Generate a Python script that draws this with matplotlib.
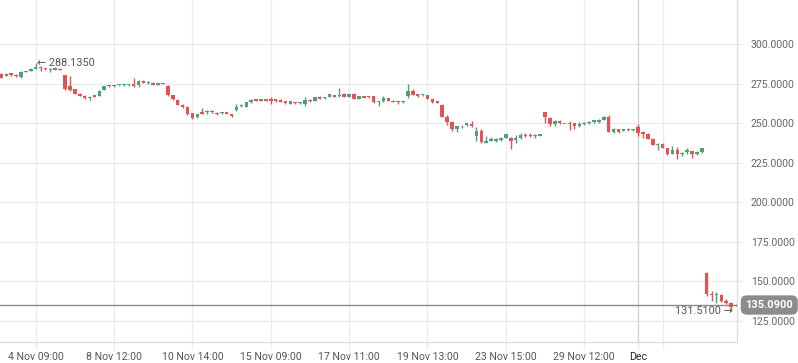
import matplotlib
matplotlib.use("Agg")
import matplotlib.pyplot as plt
import numpy as np

# ── data ──────────────────────────────────────────────────────────────────────
opens = [
    281.0, 280.0, 281.5, 280.5, 279.0, 282.6, 283.0, 284.5, 285.5, 284.9,
    283.5, 283.6, 284.3, 280.3, 273.3, 271.4, 268.7, 267.4, 266.0, 267.6,
    267.4, 271.0, 273.9, 273.4, 273.9, 274.0, 274.0, 275.0, 274.0, 276.7,
    275.2, 275.6, 274.0, 275.0, 273.5, 267.8, 264.9, 261.7, 260.4, 256.5,
    253.7, 257.0, 256.8, 257.5, 256.6, 256.1, 257.0, 255.6, 258.3, 260.6,
    260.2, 263.2, 265.0, 264.0, 265.0, 265.3, 265.3, 264.9, 264.0, 262.3,
    263.4, 262.6, 262.3, 264.7, 264.0, 266.6, 265.9, 266.6, 267.8, 267.2,
    268.2, 266.6, 268.7, 265.3, 267.2, 267.0, 267.2, 263.6, 263.8, 265.9,
    264.2, 264.0, 263.2, 267.3, 270.0, 268.2, 267.6, 267.8, 265.3, 264.0,
    261.6, 254.0, 250.8, 246.2, 247.9, 248.6, 249.6, 241.6, 245.2, 237.4,
    238.9, 238.9, 239.5, 240.5, 240.8, 239.5, 240.3, 242.8, 242.8, 241.7,
    241.8, 257.1, 253.4, 249.6, 251.5, 249.6, 250.2, 249.8, 248.5, 249.4,
    249.8, 250.8, 251.0, 252.1, 254.0, 244.5, 246.4, 245.1, 246.6, 245.6,
    247.7, 244.1, 243.2, 240.1, 236.5, 237.0, 234.2, 230.4, 233.1, 230.2,
    231.6, 232.3, 230.4, 231.9, 155.6, 142.3, 141.5, 141.7, 137.6, 136.5,
    134.5,
]
highs = [
    281.5, 281.6, 281.9, 280.8, 282.8, 283.2, 284.8, 288.135, 285.8, 285.1,
    284.7, 285.2, 284.6, 280.5, 279.8, 271.6, 268.9, 268.0, 267.2, 268.0,
    271.0, 273.5, 274.1, 274.0, 274.4, 274.9, 274.6, 278.8, 277.1, 277.0,
    276.4, 275.8, 275.6, 275.2, 273.9, 268.0, 265.1, 261.9, 260.6, 256.7,
    255.8, 259.8, 258.2, 258.0, 256.8, 257.3, 257.2, 255.8, 262.3, 262.4,
    263.4, 265.1, 265.2, 265.2, 265.2, 266.6, 265.5, 265.1, 264.2, 264.2,
    263.6, 263.6, 266.6, 265.3, 266.8, 267.0, 266.6, 268.4, 268.0, 272.3,
    269.2, 268.7, 269.2, 267.4, 267.4, 267.4, 267.4, 264.2, 267.0, 266.1,
    264.4, 264.2, 264.2, 275.0, 271.4, 268.6, 268.5, 268.0, 265.5, 264.1,
    261.8, 255.3, 251.4, 248.5, 249.0, 250.2, 251.5, 247.3, 246.2, 242.0,
    241.3, 240.5, 241.0, 243.1, 241.0, 242.2, 243.5, 243.5, 243.5, 243.0,
    243.1, 257.3, 253.6, 252.1, 252.1, 249.7, 251.4, 250.4, 250.6, 251.0,
    251.2, 252.0, 252.8, 254.5, 255.0, 247.2, 246.6, 246.6, 247.2, 246.2,
    249.4, 244.8, 243.6, 240.5, 237.3, 237.2, 234.4, 235.4, 235.0, 232.0,
    234.5, 232.5, 232.3, 234.6, 155.8, 144.2, 143.0, 141.9, 139.0, 137.3,
    135.8,
]
lows = [
    278.3, 279.8, 279.8, 279.3, 278.8, 282.4, 282.8, 284.3, 282.8, 283.8,
    282.6, 283.3, 283.4, 271.0, 270.0, 268.5, 267.2, 265.5, 264.9, 266.4,
    267.0, 270.8, 273.1, 273.0, 273.6, 273.6, 273.7, 273.0, 273.0, 275.2,
    275.0, 273.9, 273.8, 274.5, 267.4, 264.9, 261.5, 259.6, 255.4, 252.9,
    253.5, 255.8, 255.9, 256.3, 255.4, 255.6, 255.6, 253.7, 257.5, 260.0,
    260.0, 263.0, 264.0, 263.8, 263.8, 261.9, 263.2, 263.2, 262.4, 262.1,
    262.4, 261.9, 260.6, 263.4, 263.8, 265.3, 265.2, 266.4, 266.6, 266.6,
    266.2, 266.4, 265.0, 265.1, 265.9, 265.8, 263.0, 261.0, 263.2, 264.0,
    263.4, 262.4, 262.9, 266.0, 267.6, 266.4, 267.4, 265.1, 263.0, 262.6,
    253.8, 248.7, 245.2, 244.7, 246.8, 248.4, 247.4, 238.4, 237.6, 237.2,
    238.4, 238.2, 238.4, 240.3, 233.4, 237.2, 240.1, 241.0, 241.0, 240.9,
    241.6, 250.0, 247.9, 248.4, 249.2, 249.5, 245.6, 246.0, 247.4, 248.6,
    249.6, 250.2, 250.2, 251.7, 244.2, 243.6, 243.9, 244.8, 244.9, 244.9,
    241.8, 240.5, 240.0, 235.9, 233.1, 234.0, 229.8, 230.2, 227.2, 229.0,
    230.5, 228.0, 229.6, 231.0, 140.6, 137.4, 136.3, 137.0, 135.8, 131.51,
    134.2,
]
closes = [
    278.8, 281.3, 280.5, 279.6, 282.6, 283.0, 284.5, 285.5, 284.9, 284.5,
    284.5, 284.6, 283.6, 271.8, 270.8, 268.7, 267.4, 266.1, 266.5, 266.6,
    270.4, 273.3, 273.3, 273.6, 274.0, 274.3, 274.2, 273.3, 276.7, 275.4,
    276.0, 274.0, 275.4, 274.6, 267.6, 265.1, 261.7, 260.2, 256.0, 253.5,
    255.6, 256.0, 257.7, 256.9, 255.6, 257.0, 255.8, 254.3, 260.4, 261.0,
    263.2, 264.9, 264.2, 265.0, 264.0, 264.0, 264.0, 263.4, 262.6, 264.0,
    262.6, 263.2, 264.9, 264.0, 266.6, 265.5, 266.4, 268.2, 266.8, 267.8,
    266.6, 268.5, 265.3, 267.2, 266.1, 266.2, 263.2, 264.0, 265.7, 264.2,
    263.6, 263.4, 264.0, 270.3, 267.9, 267.4, 268.3, 265.3, 263.2, 263.0,
    254.0, 250.6, 246.0, 248.3, 248.5, 250.0, 247.9, 245.2, 237.8, 238.9,
    239.7, 239.7, 240.8, 242.9, 238.9, 240.8, 242.4, 241.8, 241.8, 242.4,
    242.9, 253.6, 249.6, 251.5, 250.0, 249.6, 249.2, 248.3, 249.6, 250.0,
    251.0, 251.7, 251.9, 253.8, 244.5, 246.4, 244.5, 246.2, 245.4, 245.8,
    243.9, 243.2, 240.1, 236.3, 237.1, 234.2, 230.6, 233.1, 230.4, 231.2,
    232.9, 230.4, 231.9, 234.0, 142.1, 141.5, 142.1, 137.4, 136.3, 133.8,
    135.09,
]

tick_idx = [7, 23, 39, 55, 71, 87, 103, 119, 130, 135]
tick_labels = ["4 Nov 09:00", "8 Nov 12:00", "10 Nov 14:00", "15 Nov 09:00",
               "17 Nov 11:00", "19 Nov 13:00", "23 Nov 15:00", "29 Nov 12:00",
               "Dec", ""]
month_idx = 130
y_ticks = [125, 150, 175, 200, 225, 250, 275, 300]

high_idx, high_val = 7, 288.135
low_idx, low_val = 149, 131.51
last_price = 135.09

# ── plot ──────────────────────────────────────────────────────────────────────
plt.rcParams["font.family"] = ["Roboto", "DejaVu Sans"]

RED = "#e05454"
GREEN = "#4f9f7b"
GRAY = "#8c8c8c"
GRID = "#ececec"

fig = plt.figure(figsize=(7.98, 3.63), dpi=100)
ax = fig.add_axes([0.0, 0.058, 0.9236, 0.942])

o = np.array(opens)
h = np.array(highs)
l = np.array(lows)
c = np.array(closes)
x = np.arange(len(o))

colors = np.where(c > o, GREEN, np.where(c < o, RED, GRAY))
ax.vlines(x, l, h, colors=colors, linewidth=1.0, zorder=3)
body_lo = np.minimum(o, c)
body_h = np.maximum(np.abs(c - o), 0.6)
ax.bar(x, body_h, bottom=body_lo, width=0.72, color=colors, linewidth=0, zorder=4)

# grid
for yv in y_ticks:
    ax.axhline(yv, color=GRID, linewidth=1, zorder=0)
for xi in tick_idx:
    col = "#d4d4d4" if xi == month_idx else GRID
    ax.axvline(xi, color=col, linewidth=1, zorder=0)

# last price line
ax.axhline(last_price, color="#8a8a8a", linewidth=1, zorder=2)

ax.set_xlim(-0.28, 150.2)
ax.set_ylim(111.75, 327.8)

ax.yaxis.tick_right()
ax.set_yticks(y_ticks)
ax.set_yticklabels([f"{v:.4f}" for v in y_ticks])
ax.tick_params(axis="y", length=4, width=1, color=GRID, pad=6,
               labelsize=7.6, labelcolor="#666666")

ax.set_xticks(tick_idx)
ax.set_xticklabels(tick_labels)
ax.tick_params(axis="x", length=5, width=1, color=GRID, pad=2,
               labelsize=7.6, labelcolor="#555555")
for lbl in ax.get_xticklabels():
    if lbl.get_text() == "Dec":
        lbl.set_color("#222222")

for side in ["top", "left"]:
    ax.spines[side].set_visible(False)
for side in ["right", "bottom"]:
    ax.spines[side].set_color("#dddddd")
    ax.spines[side].set_linewidth(1)

# high / low markers
ax.annotate(f"\u2190 {high_val:.4f}", xy=(high_idx, high_val),
            xytext=(1, 0), textcoords="offset points",
            ha="left", va="center", fontsize=7.8, color="#555555", zorder=5)
ax.annotate(f"{low_val:.4f} \u2192", xy=(low_idx, low_val),
            xytext=(1, 0), textcoords="offset points",
            ha="right", va="center", fontsize=7.8, color="#555555", zorder=5)

# current price badge
ax.annotate(f"{last_price:.4f}", xy=(1.0, last_price),
            xycoords=("axes fraction", "data"),
            xytext=(6, 0), textcoords="offset points",
            ha="left", va="center", fontsize=8, fontweight="bold", color="white",
            bbox=dict(boxstyle="round,pad=0.42,rounding_size=0.55",
                      fc=GRAY, ec="none"),
            annotation_clip=False, zorder=6)

fig.savefig("out.png", dpi=100)
